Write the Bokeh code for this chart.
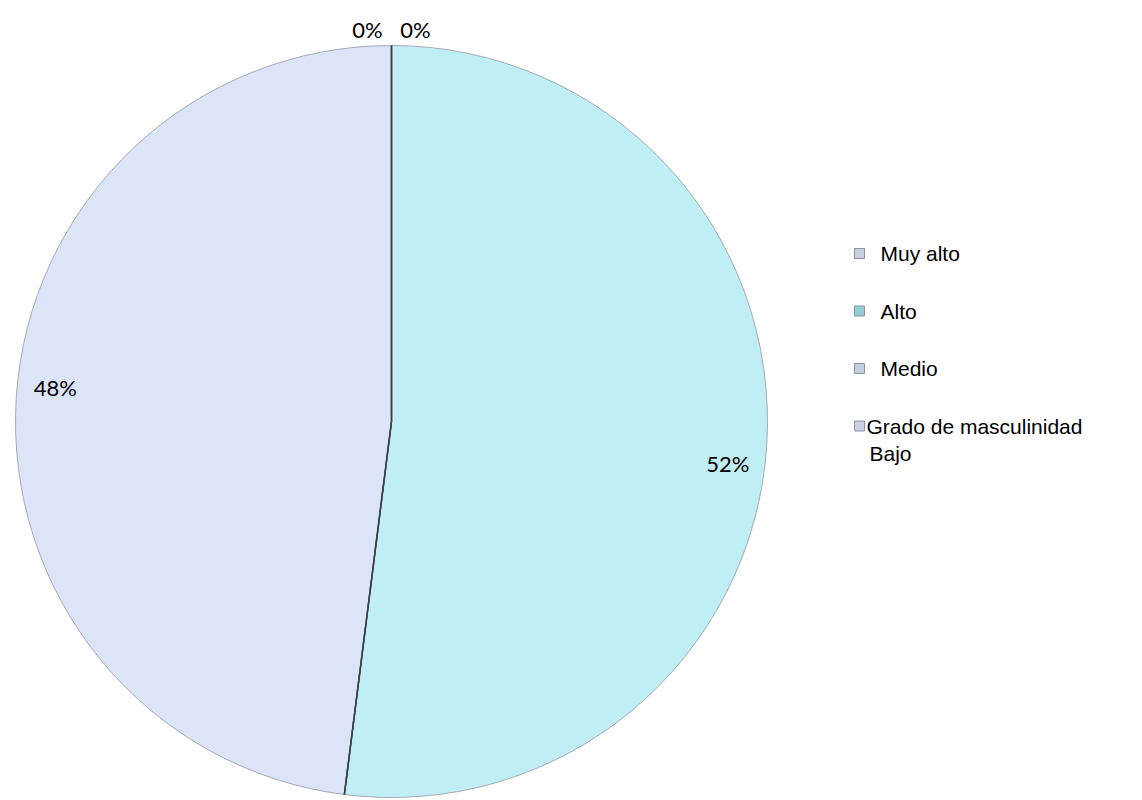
import math
from bokeh.plotting import figure
from bokeh.models import Range1d
from bokeh.core.properties import value
from bokeh.embed import file_html
from bokeh.resources import INLINE

# Data
categories = ["Muy alto", "Alto", "Medio", "Grado de masculinidad Bajo"]
percents = [0, 52, 48, 0]
legend_lines = [["Muy alto"], ["Alto"], ["Medio"], ["Grado de masculinidad", "Bajo"]]

slice_colors = ["#d6def2", "#c0eef5", "#dce4f7", "#d8e0f4"]
marker_colors = ["#c6cfe0", "#93cdd6", "#c6cfe2", "#c9d1e6"]

W, H = 1142, 800
p = figure(width=W, height=H, output_backend="svg", toolbar_location=None,
           x_range=Range1d(0, W), y_range=Range1d(0, H), min_border=0)
p.axis.visible = False
p.grid.visible = False
p.outline_line_color = None
p.background_fill_color = "white"

cx, cy, R = 391, 800 - 421, 376
total = sum(percents)

start = math.pi / 2
wedges = []
for cat, v, col in zip(categories, percents, slice_colors):
    ang = 2 * math.pi * v / total
    end = start - ang
    wedges.append((cat, v, col, start, end))
    start = end

for cat, v, col, s, e in wedges:
    if v > 0:
        p.wedge(x=cx, y=cy, radius=R, start_angle=s, end_angle=e, direction="clock",
                fill_color=col, line_color="#a3abb4", line_width=1)
for cat, v, col, s, e in wedges:
    if v > 0:
        for a in (s, e):
            p.segment(x0=cx, y0=cy, x1=cx + R * math.cos(a), y1=cy + R * math.sin(a),
                      line_color="#3a3f45", line_width=1.5)

# data labels
for cat, v, col, s, e in wedges:
    if v > 0:
        mid = (s + e) / 2 - math.radians(2.8)
        r = 0.9 * R
        p.text(x=[cx + r * math.cos(mid)], y=[cy + r * math.sin(mid) - 4], text=[f"{v}%"],
               text_font=value("Lato"), text_font_size="22px", text_color="#000000",
               text_align="center", text_baseline="middle")
    else:
        side = 1 if cat == categories[0] else -1
        p.text(x=[cx + side * 24], y=[cy + R + 16], text=[f"{v}%"],
               text_font=value("Lato"), text_font_size="22px", text_color="#000000",
               text_align="center", text_baseline="middle")

# legend
lx, ly0, step = 859, 800 - 253, 57.5
y = ly0
for lines, mc in zip(legend_lines, marker_colors):
    p.scatter(x=[lx], y=[y], marker="square", size=10, fill_color=mc,
              line_color="#8a93a0", line_width=1)
    for i, t in enumerate(lines):
        p.text(x=[lx + (7 if len(lines) > 1 else 21) + (3 if i > 0 else 0)], y=[y - 27 * i], text=[t],
               text_font=value("Liberation Sans"), text_font_size="21px",
               text_color="#000000", text_align="left", text_baseline="middle")
    y -= step

open("out.html", "w").write(file_html(p, INLINE))
